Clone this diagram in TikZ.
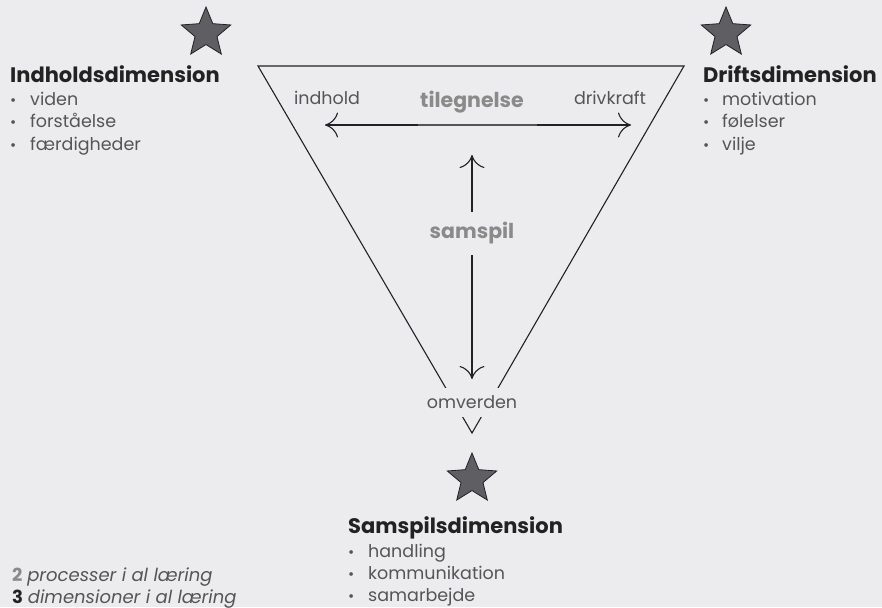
\documentclass[tikz,border=0pt]{standalone}
\usepackage{fontspec}
\setmainfont{Poppins}
\usetikzlibrary{arrows.meta,shapes.geometric}
\definecolor{bg}{HTML}{ECECEE}
\definecolor{ink}{HTML}{222222}
\definecolor{txt}{HTML}{555555}
\definecolor{lbl}{HTML}{8A8A8A}
\definecolor{starfill}{HTML}{5F5F63}
\tikzset{
  bigstar/.style={shape=star, star points=5, star point ratio=2.25, minimum size=52pt, inner sep=0pt, fill=starfill, draw=ink, line width=0.8pt},
  heading/.style={anchor=base west, inner sep=0pt, text=ink, font=\fontsize{21}{23}\selectfont\bfseries},
  item/.style={anchor=base west, inner sep=0pt, text=txt, font=\fontsize{17.5}{19}\selectfont},
  bul/.style={anchor=base west, inner sep=0pt, text=txt, font=\fontsize{15}{16}\selectfont},
  corner/.style={anchor=base, inner sep=0pt, text=txt, font=\fontsize{17.5}{19}\selectfont},
  proc/.style={text=lbl, font=\fontsize{20.5}{22}\selectfont\bfseries},
  tri/.style={draw=ink, line width=1.1pt, line join=miter},
  arr/.style={draw=ink, line width=1.1pt, {Computer Modern Rightarrow[length=13pt,width=25pt]}-{Computer Modern Rightarrow[length=13pt,width=25pt]}},
}
\begin{document}
\begin{tikzpicture}[x=1pt,y=-1pt]
\fill[bg] (0,0) rectangle (882,607);
\useasboundingbox (0,0) rectangle (882,607);

% stars
\node[bigstar] (s1) at (206,33) {};
\node[bigstar] (s2) at (726,33) {};
\node[bigstar] (s3) at (472,479) {};

% triangle
\coordinate (tl) at (258,66);
\coordinate (tr) at (684,66);
\coordinate (tb) at (472,433);
\draw[tri] (tl) -- (tr) -- (tb) -- cycle;

% horizontal arrow
\coordinate (hl) at (325,125);
\coordinate (hr) at (631,125);
\draw[arr] (hl) -- (hr);
\coordinate (ul) at (418,125);
\coordinate (ur) at (537,125);
\draw[draw=txt, line width=1.5pt] (ul) -- (ur);

% vertical arrow
\coordinate (vt) at (472,155);
\coordinate (vb) at (472,379);
\draw[arr] (vt) -- (vb);

\node[fill=bg, inner sep=0pt, minimum width=100pt, minimum height=43pt, proc] (samspil) at (472,233) {samspil};
\node[fill=bg, inner sep=0pt, minimum width=110pt, minimum height=29pt, text=txt, font=\fontsize{17.5}{19}\selectfont] (omverden) at (472,402.5) {omverden};

\node[corner] (indhold) at (327,104) {indhold};
\node[corner] (drivkraft) at (610,104) {drivkraft};
\node[anchor=base, inner sep=0pt, proc] (tilegnelse) at (472,107) {tilegnelse};

% left list
\node[heading] (h1) at (10,83) {Indholdsdimension};
\node[bul] (b11) at (10,106) {•};
\node[item] (i11) at (30,106) {viden};
\node[bul] (b12) at (10,128) {•};
\node[item] (i12) at (30,128) {forståelse};
\node[bul] (b13) at (10,150) {•};
\node[item] (i13) at (30,150) {færdigheder};

% right list
\node[heading] (h2) at (703,83) {Driftsdimension};
\node[bul] (b21) at (703,106) {•};
\node[item] (i21) at (722,106) {motivation};
\node[bul] (b22) at (703,128) {•};
\node[item] (i22) at (722,128) {følelser};
\node[bul] (b23) at (703,150) {•};
\node[item] (i23) at (722,150) {vilje};

% bottom list
\node[heading] (h3) at (348,533) {Samspilsdimension};
\node[bul] (b31) at (348,557) {•};
\node[item] (i31) at (368,557) {handling};
\node[bul] (b32) at (348,579) {•};
\node[item] (i32) at (368,579) {kommunikation};
\node[bul] (b33) at (348,601) {•};
\node[item] (i33) at (368,601) {samarbejde};

% legend
\node[anchor=base west, inner sep=0pt, text=txt, font=\fontsize{18}{19}\selectfont] (l1) at (12,581) {{\bfseries\color{lbl}2} \itshape processer i al læring};
\node[anchor=base west, inner sep=0pt, text=txt, font=\fontsize{18}{19}\selectfont] (l2) at (12,603) {{\bfseries\color{ink}3} \itshape dimensioner i al læring};
\end{tikzpicture}
\end{document}
